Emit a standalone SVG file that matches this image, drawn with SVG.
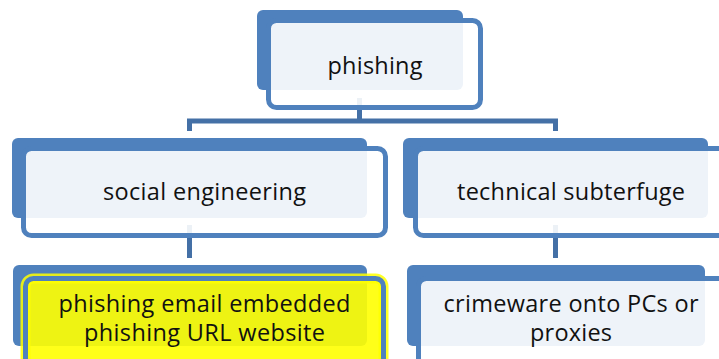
<svg xmlns="http://www.w3.org/2000/svg" width="719" height="359" viewBox="0 0 719 359">
<style>
.back{fill:#4F81BD;}
.front{fill:#FFFFFF;fill-opacity:0.9;stroke:#4F81BD;stroke-width:5;}
.hl{fill:#FFFF00;fill-opacity:0.9;stroke:#4F81BD;stroke-width:5;}
.glow{fill:none;stroke:#FFFF00;stroke-width:10;stroke-opacity:0.85;}
.conn{fill:none;stroke:#4470A6;stroke-width:5;}
.t{font-family:"Open Sans","Noto Sans","Liberation Sans",sans-serif;font-size:23.5px;fill:#111111;text-anchor:middle;}
</style>
<rect width="719" height="359" fill="#FFFFFF"/>
<g id="connectors">
<path class="conn" d="M359.5,98 V121 M189.5,131 V121 H555.5 V131"/>
<path class="conn" d="M189.5,225 V258"/>
<path class="conn" d="M555.5,225 V258"/>
</g>
<g id="node-phishing">
<rect class="back" x="257" y="10" width="206" height="80" rx="6"/>
<rect class="front" x="268.5" y="20.5" width="212" height="87" rx="8"/>
<text class="t" x="375" y="74" textLength="95">phishing</text>
</g>
<g id="node-social">
<rect class="back" x="12" y="138" width="355" height="80" rx="6"/>
<rect class="front" x="23.5" y="148.5" width="362" height="87" rx="8"/>
<text class="t" x="204.5" y="200" textLength="203">social engineering</text>
</g>
<g id="node-technical">
<rect class="back" x="403" y="138" width="305" height="80" rx="6"/>
<rect class="front" x="415.5" y="148.5" width="315" height="87" rx="8"/>
<text class="t" x="571" y="200" textLength="228">technical subterfuge</text>
</g>
<g id="node-email">
<rect class="back" x="13" y="265" width="354" height="81" rx="6"/>
<rect class="glow" x="25.5" y="278.5" width="358" height="95" rx="8"/>
<rect class="hl" x="25.5" y="278.5" width="358" height="95" rx="8"/>
<text class="t" x="204.5" y="312" textLength="292">phishing email embedded</text>
<text class="t" x="204.5" y="341" textLength="241">phishing URL website</text>
</g>
<g id="node-crimeware">
<rect class="back" x="407" y="265" width="298" height="81" rx="6"/>
<rect class="front" x="418.5" y="278.5" width="312" height="95" rx="8"/>
<text class="t" x="571" y="312" textLength="255">crimeware onto PCs or</text>
<text class="t" x="571" y="341" textLength="82">proxies</text>
</g>
</svg>
